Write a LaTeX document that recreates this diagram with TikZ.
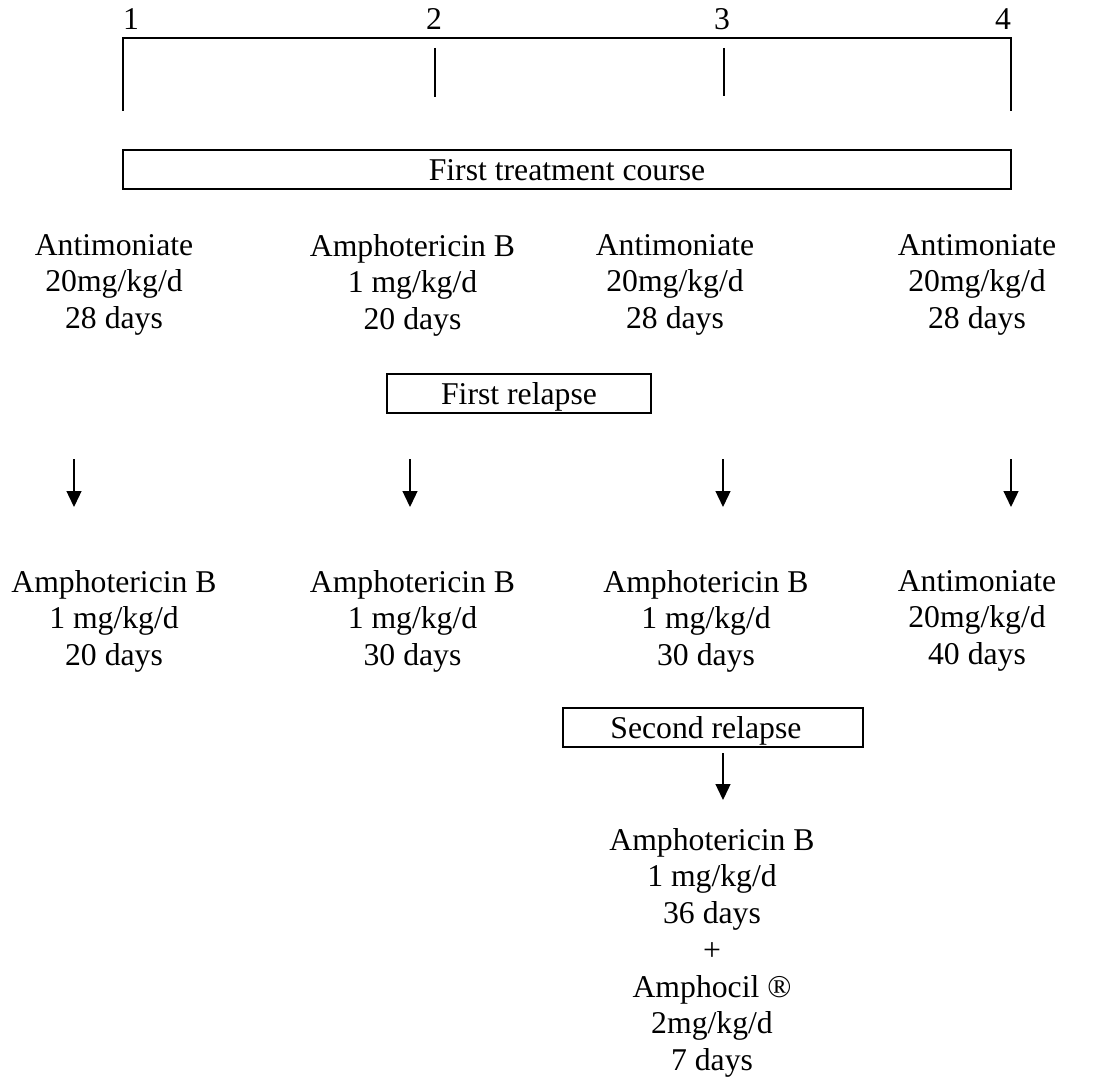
\documentclass[tikz,border=0pt]{standalone}
\usepackage{fontspec}
\setmainfont{Liberation Serif}
\usetikzlibrary{arrows.meta}

\begin{document}
\begin{tikzpicture}[x=1pt,y=-1pt,
        font=\fontsize{31.7}{36.7}\selectfont,
        drug/.style={anchor=north,align=center,inner sep=0pt},
        num/.style={anchor=base,inner sep=0pt},
        course/.style={draw,line width=1.9pt,inner sep=0pt,minimum height=39pt,text height=22pt,text depth=0pt},
        arr/.style={line width=1.3pt,-{Triangle[length=16pt,width=15pt]}}]
        % \draw[help lines] grid(10,10);
        \useasboundingbox (0,0) rectangle (1097,1078);

        % time line with the four patients
        \draw[line width=1.9pt] (122.7,111) -- (122.7,38) -- (1011,38) -- (1011,111);
        \draw[line width=1.3pt] (435,48) -- (435,97);
        \draw[line width=1.3pt] (724,48) -- (724,96);
        \node[num] (p1) at (131,30) {1};
        \node[num] (p2) at (434,30) {2};
        \node[num] (p3) at (722,30) {3};
        \node[num] (p4) at (1003,30) {4};

        \node[course,minimum width=888.3pt] (ftc) at (567,169.5) {First treatment course};

        \node[drug] (t1a) at (114,234) {Antimoniate\\20mg/kg/d\\28 days};
        \node[drug] (t2a) at (412.5,234) {Amphotericin B\\1 mg/kg/d\\20 days};
        \node[drug] (t3a) at (675,234) {Antimoniate\\20mg/kg/d\\28 days};
        \node[drug] (t4a) at (977,234) {Antimoniate\\20mg/kg/d\\28 days};

        \node[course,minimum width=264.3pt] (rel1) at (519,393.4) {First relapse};

        \coordinate (s1) at (74,459);
        \coordinate (e1) at (74,507);
        \coordinate (s2) at (410,459);
        \coordinate (e2) at (410,507);
        \coordinate (s3) at (723,459);
        \coordinate (e3) at (723,507);
        \coordinate (s4) at (1011,459);
        \coordinate (e4) at (1011,507);
        \draw[arr] (s1) -- (e1);
        \draw[arr] (s2) -- (e2);
        \draw[arr] (s3) -- (e3);
        \draw[arr] (s4) -- (e4);

        \node[drug] (t1b) at (114,570) {Amphotericin B\\1 mg/kg/d\\20 days};
        \node[drug] (t2b) at (412.5,570) {Amphotericin B\\1 mg/kg/d\\30 days};
        \node[drug] (t3b) at (706,570) {Amphotericin B\\1 mg/kg/d\\30 days};
        \node[drug] (t4b) at (977,570) {Antimoniate\\20mg/kg/d\\40 days};

        \node[course,minimum width=300.3pt] (rel2) at (712.9,727.4) {Second relapse\hspace*{14pt}};

        \coordinate (s5) at (723,753);
        \coordinate (e5) at (723,800);
        \draw[arr] (s5) -- (e5);

        \node[drug] (t3c) at (712,828) {Amphotericin B\\1 mg/kg/d\\36 days\\+\\Amphocil ®\\2mg/kg/d\\7 days};
    \end{tikzpicture}
\end{document}
